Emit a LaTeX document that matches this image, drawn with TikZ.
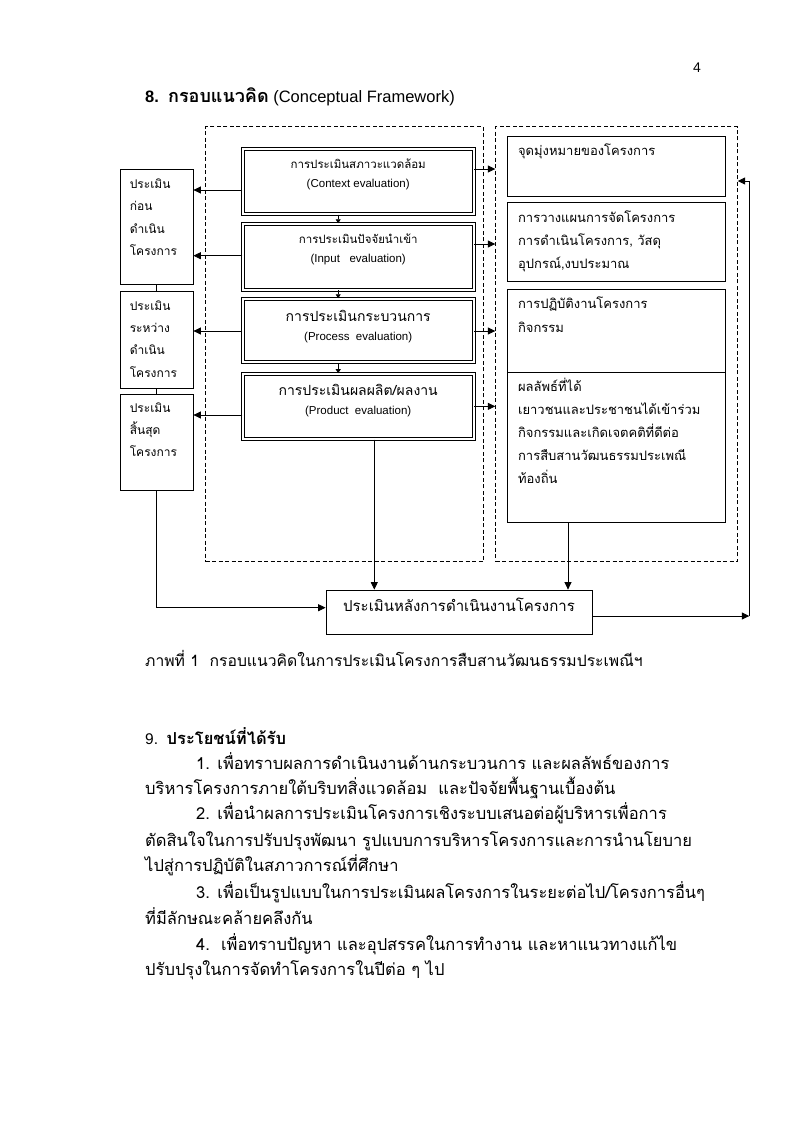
\documentclass[tikz,border=0pt]{standalone}
\usepackage{fontspec}
\setmainfont{Liberation Sans}
\newfontfamily\thai[Script=Thai]{Loma}
\usetikzlibrary{arrows.meta,positioning,calc}

\tikzset{
  frame/.style={draw, dash pattern=on 4pt off 2.5pt, line width=0.8pt, inner sep=0pt},
  evalbox/.style={draw, double, double distance=2.2pt, line width=0.9pt, minimum width=231pt, inner sep=0pt},
  sidebox/.style={draw, line width=0.8pt, minimum width=72.3pt, inner sep=0pt},
  aimbox/.style={draw, line width=0.8pt, minimum width=218.7pt, inner sep=0pt},
  sidetxt/.style={font=\thai\fontsize{12}{14}\selectfont, anchor=west, inner sep=0pt, text height=7pt, text depth=0pt},
  aimtxt/.style={font=\thai\fontsize{13}{15}\selectfont, anchor=west, inner sep=0pt, text height=7pt, text depth=0pt},
  bodytxt/.style={font=\thai\fontsize{16.5}{18}\selectfont, anchor=west, inner sep=0pt, text height=8pt, text depth=0pt},
  arr/.style={-{Triangle[length=7.5pt,width=7pt]}, line width=0.8pt},
  tinyarr/.style={-{Triangle[length=4pt,width=5pt]}, line width=0.8pt},
}

\begin{document}
\begin{tikzpicture}[x=1pt,y=-1pt]
\fill[white] (0,0) rectangle (799,1130);
% Page number and heading
\node[font=\fontsize{14}{16}\selectfont, anchor=west, inner sep=0pt] (pgno) at (693,68) {4};
\node[anchor=west, inner sep=0pt, font=\fontsize{16.5}{18}\selectfont] (head8) at (145,97)
  {\textbf{8.}\ \ {\thai\bfseries\fontsize{18}{20}\selectfont กรอบแนวคิด} (Conceptual Framework)};
% Dashed frames
\node[frame, minimum width=277.6pt, minimum height=435pt] (lframe) at (344.5,344.2) {};
\node[frame, minimum width=241.6pt, minimum height=435pt] (rframe) at (616.5,344.2) {};
% CIPP boxes
\node[evalbox, minimum height=65.5pt] (ctx) at (358.2,181.35) {};
\node[evalbox, minimum height=66pt] (inp) at (358.2,256.7) {};
\node[evalbox, minimum height=63.6pt] (prc) at (358.2,330.5) {};
\node[evalbox, minimum height=65.5pt] (prd) at (358.2,406.35) {};
\foreach \b/\tha/\eng/\fs/\dy in {ctx/การประเมินสภาวะแวดล้อม/(Context evaluation)/11.5/17,
    inp/การประเมินปัจจัยนำเข้า/(Input~~~evaluation)/11.5/17,
    prc/การประเมินกระบวนการ/(Process~~evaluation)/14/20,
    prd/{การประเมินผลผลิต/ผลงาน}/(Product~~evaluation)/14/19} {
  \node[font=\thai\fontsize{\fs}{16}\selectfont, inner sep=0pt, text height=7pt, text depth=0pt]
    (\b-th) at ($(\b.north)+(0,\dy)$) {\tha};
  \node[font=\fontsize{11.5}{14}\selectfont, inner sep=0pt] (\b-en) at ($(\b.north)+(0,\dy+19)$) {\eng};
}
\foreach \a/\b in {ctx/inp, inp/prc, prc/prd}
  \draw[tinyarr] ([xshift=-20pt]\a.south) -- ([xshift=-20pt]\b.north);
% Left column
\node[sidebox, minimum height=115pt] (lb1) at (156.85,226.5) {};
\node[sidebox, minimum height=97pt] (lb2) at (156.85,339.5) {};
\node[sidebox, minimum height=96.7pt] (lb3) at (156.85,442.35) {};
\draw[line width=0.8pt] (lb1.south) -- (lb2.north);
\draw[line width=0.8pt] (lb2.south) -- (lb3.north);
\foreach \t [count=\i from 0] in {ประเมิน, ก่อน, ดำเนิน, โครงการ}
  \node[sidetxt] (lt1-\i) at ($(lb1.north west)+(9.3,{16+22.6*\i})$) {\t};
\foreach \t [count=\i from 0] in {ประเมิน, ระหว่าง, ดำเนิน, โครงการ}
  \node[sidetxt] (lt2-\i) at ($(lb2.north west)+(9.3,{16+22.3*\i})$) {\t};
\foreach \t [count=\i from 0] in {ประเมิน, สิ้นสุด, โครงการ}
  \node[sidetxt] (lt3-\i) at ($(lb3.north west)+(9.3,{15+22.3*\i})$) {\t};
% Arrows out of the CIPP boxes
\foreach \b/\t/\l/\r in {ctx/lb1/-8.65/12.35, inp/lb1/1/12.7, prc/lb2/-0.5/-0.5, prd/lb3/-8.65/0} {
  \path ([yshift=\l pt]\b.west) coordinate (L) ([yshift=\r pt]\b.east) coordinate (R);
  \draw[arr] (L) -- (L -| \t.east);
  \draw[arr] (R) -- (R -| rframe.west);
}
% Right column
\node[aimbox, minimum height=60.3pt] (rb1) at (616.35,166.15) {};
\node[aimbox, minimum height=79pt] (rb2) at (616.35,241.5) {};
\node[aimbox, minimum height=83.7pt] (rb3) at (616.35,330.85) {};
\node[aimbox, minimum height=150pt] (rb4) at (616.35,447.7) {};
\node[aimtxt] (rt1-0) at ($(rb1.north west)+(11.3,16.3)$) {จุดมุ่งหมายของโครงการ};
\foreach \t [count=\i from 0] in {การวางแผนการจัดโครงการ, {การดำเนินโครงการ, วัสดุ}, {อุปกรณ์,งบประมาณ}}
  \node[aimtxt] (rt2-\i) at ($(rb2.north west)+(11.3,{17+23.2*\i})$) {\t};
\foreach \t [count=\i from 0] in {การปฏิบัติงานโครงการ, กิจกรรม}
  \node[aimtxt] (rt3-\i) at ($(rb3.north west)+(11.3,{16.7+23.3*\i})$) {\t};
\foreach \t [count=\i from 0] in {ผลลัพธ์ที่ได้, เยาวชนและประชาชนได้เข้าร่วม, กิจกรรมและเกิดเจตคติที่ดีต่อ,
    การสืบสานวัฒนธรรมประเพณี, ท้องถิ่น}
  \node[aimtxt] (rt4-\i) at ($(rb4.north west)+(11.3,{15.6+23.1*\i})$) {\t};
% After-project evaluation
\node[draw, line width=0.8pt, minimum width=266pt, minimum height=44pt, inner sep=0pt] (after) at (459,612) {};
\node[font=\thai\fontsize{15}{16}\selectfont, inner sep=0pt, text height=7pt, text depth=0pt]
  (after-t) at ($(after.center)+(0,-4)$) {ประเมินหลังการดำเนินงานโครงการ};
\coordinate (aw) at ([yshift=4.3pt]after.west);
\coordinate (ae) at ([yshift=-4pt]after.east);
\coordinate (pd) at ([xshift=16.1pt]prd.south);
\coordinate (r4) at ([xshift=-48.35pt]rb4.south);
\coordinate (fbtop) at (749.3,181);
\draw[arr] (lb3.south) |- (aw);
\draw[arr] (pd) -- (pd |- after.north);
\draw[arr] (r4) -- (r4 |- after.north);
\draw[arr] (ae) -- (ae -| fbtop);
\draw[arr] (ae -| fbtop) -- (fbtop) -- (fbtop -| rframe.east);
% Caption
\node[bodytxt, font=\thai\fontsize{15.7}{18}\selectfont] (caption) at (145,662) {ภาพที่ 1~~กรอบแนวคิดในการประเมินโครงการสืบสานวัฒนธรรมประเพณีฯ};
% Section 9
\node[anchor=west, inner sep=0pt, font=\fontsize{15.5}{18}\selectfont, text height=8pt, text depth=0pt] (head9) at (145,740)
  {9.\ \ {\thai\bfseries\fontsize{16.5}{18}\selectfont ประโยชน์ที่ได้รับ}};
\foreach \y/\x/\t [count=\i] in {765/196/{1. เพื่อทราบผลการดำเนินงานด้านกระบวนการ และผลลัพธ์ของการ},
    790/145/{บริหารโครงการภายใต้บริบทสิ่งแวดล้อม~~และปัจจัยพื้นฐานเบื้องต้น},
    815/196/{2. เพื่อนำผลการประเมินโครงการเชิงระบบเสนอต่อผู้บริหารเพื่อการ},
    842/145/{ตัดสินใจในการปรับปรุงพัฒนา รูปแบบการบริหารโครงการและการนำนโยบาย},
    867/145/{ไปสู่การปฏิบัติในสภาวการณ์ที่ศึกษา},
    894/196/{3. เพื่อเป็นรูปแบบในการประเมินผลโครงการในระยะต่อไป/โครงการอื่นๆ},
    920/145/{ที่มีลักษณะคล้ายคลึงกัน},
    946/196/{4.~~เพื่อทราบปัญหา และอุปสรรคในการทำงาน และหาแนวทางแก้ไข},
    971/145/{ปรับปรุงในการจัดทำโครงการในปีต่อ ๆ ไป}}
  \node[bodytxt] (body-\i) at (\x,\y) {\t};
\end{tikzpicture}
\end{document}
